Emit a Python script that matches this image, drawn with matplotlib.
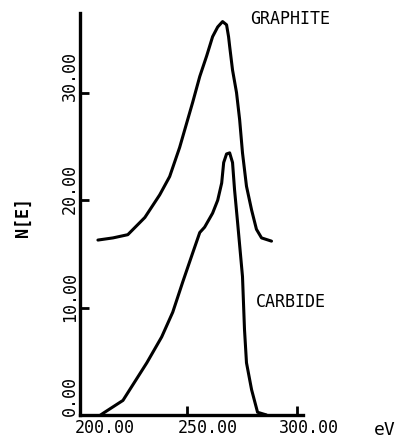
import matplotlib
matplotlib.use("Agg")
import matplotlib.pyplot as plt

# ===== data =====
graphite_ev = [209.9, 216.7, 223.4, 231.1, 237.8, 242.3, 246.8, 252.7, 255.9,
               259.0, 261.7, 264.0, 266.2, 268.0, 268.9, 269.4, 270.7, 272.5, 273.9,
               275.2, 277.0, 279.3, 281.5, 283.8, 288.3]
graphite_n = [16.3, 16.5, 16.8, 18.4, 20.5, 22.2, 24.9, 29.1, 31.5,
              33.4, 35.2, 36.1, 36.6, 36.3, 35.2, 34.3, 32.1, 30.0, 27.5,
              24.4, 21.3, 19.1, 17.3, 16.5, 16.2]

carbide_ev = [210.8, 212.2, 221.2, 232.0, 238.7, 243.7, 248.2, 252.7, 255.9, 258.1,
              261.7, 264.0, 265.8, 266.7, 268.0, 269.4, 270.7, 271.6, 273.0, 275.2,
              276.1, 277.0, 279.3, 282.0, 286.0]
carbide_n = [0.0, 0.2, 1.4, 4.9, 7.3, 9.6, 12.4, 15.1, 17.0, 17.5,
             18.8, 20.0, 21.6, 23.5, 24.3, 24.4, 23.5, 21.0, 17.9, 12.9,
             8.0, 4.9, 2.4, 0.3, 0.05]

x_ticks = [250, 300]
x_labels = ["200.00", "250.00", "300.00"]
y_ticks = [10, 20, 30]
y_labels = ["0.00", "10.00", "20.00", "30.00"]

mono = "DejaVu Sans Mono"

fig = plt.figure(figsize=(3.96, 4.38), dpi=100)
ax = fig.add_axes([0.202, 0.0514, 0.563, 0.919])

for xs, ys in [(graphite_ev, graphite_n), (carbide_ev, carbide_n)]:
    ax.plot(xs, ys, color="black", lw=2.2, solid_joinstyle="round",
            solid_capstyle="round")

ax.set_xlim(201.8, 302.5)
ax.set_ylim(0, 37.4)

for s in ["top", "right"]:
    ax.spines[s].set_visible(False)
for s in ["left", "bottom"]:
    ax.spines[s].set_linewidth(2.4)

ax.set_xticks(x_ticks)
ax.set_yticks(y_ticks)
ax.tick_params(direction="in", length=6.5, width=2, labelbottom=False, labelleft=False)

# tick labels sit a bit off their ticks, like the original plotter output
for xpos, lab in zip([213.1, 259.5, 305.4], x_labels):
    ax.text(xpos, -0.031, lab, transform=ax.get_xaxis_transform(), ha="center", va="center",
            fontsize=12, family=mono, clip_on=False)
for ypos, lab in zip([1.8, 11.0, 21.0, 31.5], y_labels):
    ax.text(-0.045, ypos, lab, transform=ax.get_yaxis_transform(), ha="center", va="center",
            rotation=90, fontsize=12, family=mono, clip_on=False)

ax.text(296.8, 36.8, "GRAPHITE", ha="center", va="center", fontsize=12, family=mono,
        clip_on=False)
ax.text(297.1, 10.56, "CARBIDE", ha="center", va="center", fontsize=12, family=mono,
        clip_on=False)

fig.text(0.058, 0.505, "N[E]", rotation=90, ha="center", va="center", fontsize=12,
         family=mono, fontweight="bold")
fig.text(0.972, 0.018, "eV", ha="center", va="center", fontsize=13, family=mono)

fig.savefig("out.png", dpi=100)
